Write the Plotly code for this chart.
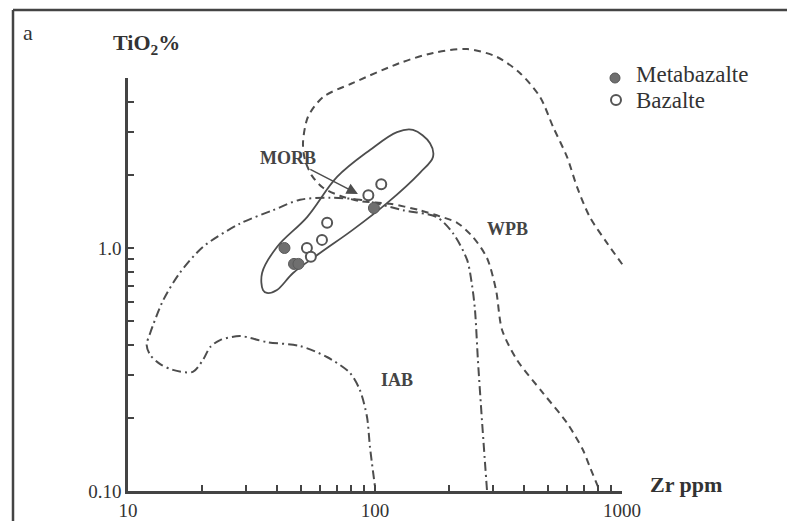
import numpy as np
import plotly.graph_objects as go

# ---------------- data ----------------
# Samples
meta_zr = [43, 47, 49, 99]
meta_ti = [1.00, 0.86, 0.86, 1.46]
baz_zr = [106, 94, 64, 61, 53, 55]
baz_ti = [1.83, 1.65, 1.27, 1.08, 1.00, 0.92]

# MORB field (solid, closed)
morb_zr = [35.2, 34.9, 40.1, 53.1, 70.2, 95.4, 122.8, 142.5, 167, 171.7, 152, 111.8, 81.5, 59.9, 46.6, 40.1, 36.5, 35.2]
morb_ti = [0.671, 0.789, 1.01, 1.34, 1.96, 2.53, 3.00, 3.06, 2.70, 2.37, 2.04, 1.53, 1.19, 0.953, 0.789, 0.672, 0.653, 0.671]

# WPB boundary (dashed)
wpb_zr = [800, 741, 695, 599, 479, 376, 327, 309, 284, 249, 215, 183, 152, 115, 86.9, 72.1, 61.6, 55.6, 52.1,
          51.1, 53.5, 61.6, 81.5, 126, 172, 236, 312, 386, 466, 526, 599, 658, 741, 869, 1028]
wpb_ti = [0.104, 0.1255, 0.1475, 0.1905, 0.253, 0.346, 0.460, 0.672, 0.910, 1.11, 1.27, 1.35, 1.43, 1.52, 1.56,
          1.64, 1.77, 1.98, 2.30, 2.70, 3.46, 4.18, 4.78, 5.77, 6.35, 6.59, 6.11, 5.25, 4.18, 3.15, 2.37, 1.78,
          1.34, 1.05, 0.827]

# IAB boundary (dash-dot)
iab_zr = [284, 271, 261, 254, 247, 236, 207, 178, 130, 86.9, 65.7, 49.7, 38.6, 28.4, 20.1, 16.2, 13.9, 12.3,
          11.9, 12.3, 13.5, 15.2, 18.3, 20.1, 21.5, 23.6, 28.4, 36.5, 49.7, 63.9, 79.2, 86.9, 92.8, 95.4, 100]
iab_ti = [0.101, 0.196, 0.346, 0.556, 0.704, 0.893, 1.15, 1.34, 1.43, 1.58, 1.61, 1.58, 1.43, 1.26, 1.01, 0.789,
          0.611, 0.447, 0.399, 0.363, 0.333, 0.315, 0.309, 0.346, 0.391, 0.418, 0.434, 0.410, 0.395, 0.356,
          0.306, 0.260, 0.202, 0.152, 0.104]

# Axes ticks
x_tickvals = [10, 20, 30, 40, 50, 60, 70, 80, 90, 100, 200, 300, 400, 500, 600, 700, 800, 900, 1000]
x_ticktext = ["10"] + [""] * 8 + ["100"] + [""] * 8 + ["1000"]
y_tickvals = [0.1, 0.2, 0.3, 0.4, 0.5, 0.6, 0.7, 0.8, 0.9, 1.0, 2, 3, 4, 5]
y_ticktext = ["0.10"] + [""] * 8 + ["1.0"] + [""] * 4

# Field labels (MORB label is attached to its arrow tip)
field_names = ["WPB", "IAB"]
field_zr = [345, 122.7]
field_ti = [1.20, 0.286]
morb_label = "MORB"
arrow_zr, arrow_ti = 85.3, 1.67

# ---------------- layout geometry ----------------
W, H = 787, 521
L, R, T, B = 128, 147, 12, 30
PW, PH = W - L - R, H - T - B
PX_DEC_X, PX_DEC_Y = 247.0, 243.0
x_rng = [1, 1 + PW / PX_DEC_X]
y_rng = [-1, -1 + PH / PX_DEC_Y]
x2_dom = (3 - 1) / (x_rng[1] - x_rng[0])
y2_dom = (np.log10(5) + 1) / (y_rng[1] - y_rng[0])


def px(xp, yp):
    return (xp - L) / PW, (H - B - yp) / PH


LC = "#4d4d4d"
SERIF = "Liberation Serif"

fig = go.Figure()
fig.add_trace(go.Scatter(x=wpb_zr, y=wpb_ti, mode="lines",
                         line=dict(color=LC, width=2, dash="7px,5px", shape="spline", smoothing=0.8),
                         showlegend=False, hoverinfo="skip"))
fig.add_trace(go.Scatter(x=iab_zr, y=iab_ti, mode="lines",
                         line=dict(color=LC, width=2, dash="9px,4px,2px,4px", shape="spline", smoothing=0.8),
                         showlegend=False, hoverinfo="skip"))
fig.add_trace(go.Scatter(x=morb_zr, y=morb_ti, mode="lines",
                         line=dict(color=LC, width=1.8, shape="spline", smoothing=1.0),
                         showlegend=False, hoverinfo="skip"))
fig.add_trace(go.Scatter(x=meta_zr, y=meta_ti, mode="markers", xaxis="x2", yaxis="y2",
                         marker=dict(size=11, color="#6f6f6f", line=dict(color="#5a5a5a", width=1)),
                         name="Metabazalte", showlegend=False))
fig.add_trace(go.Scatter(x=baz_zr, y=baz_ti, mode="markers", xaxis="x2", yaxis="y2",
                         marker=dict(size=10, color="white", line=dict(color="#555555", width=2)),
                         name="Bazalte", showlegend=False))

axis_common = dict(type="log", showgrid=False, zeroline=False, automargin=False)
tickfont = dict(family=SERIF, size=19, color="#333")
fig.update_layout(
    width=W, height=H, autosize=False,
    margin=dict(l=L, r=R, t=T, b=B, autoexpand=False),
    paper_bgcolor="white", plot_bgcolor="rgba(0,0,0,0)",
    xaxis=dict(**axis_common, range=x_rng, domain=[0, 1], visible=False, anchor="y"),
    yaxis=dict(**axis_common, range=y_rng, domain=[0, 1], visible=False, anchor="x"),
    xaxis2=dict(**axis_common, range=[1, 3], domain=[0, x2_dom], anchor="y2",
                showline=True, linecolor="#444", linewidth=2.5, ticks="inside", ticklen=6, tickwidth=1.5,
                tickcolor="#444", tickvals=x_tickvals, ticktext=x_ticktext, tickfont=tickfont),
    yaxis2=dict(**axis_common, range=[-1, np.log10(5)], domain=[0, y2_dom], anchor="x2",
                showline=True, linecolor="#444", linewidth=2.5, ticks="inside", ticklen=6, tickwidth=1.5,
                tickcolor="#444", tickvals=y_tickvals, ticktext=y_ticktext, tickfont=tickfont),
    showlegend=False,
)

ann = []
for name, zx, ty in zip(field_names, field_zr, field_ti):
    ann.append(dict(x=np.log10(zx), y=np.log10(ty), xref="x", yref="y", text=f"<b>{name}</b>", showarrow=False,
                    xanchor="center", yanchor="middle", font=dict(family=SERIF, size=18, color="#444")))
# MORB label with its arrow
ann.append(dict(x=np.log10(arrow_zr), y=np.log10(arrow_ti), xref="x", yref="y", ax=-70, ay=-36,
                text=f"<b>{morb_label}</b>", font=dict(family=SERIF, size=18, color="#444"),
                showarrow=True, arrowhead=2, arrowsize=1.5, arrowwidth=1.5, arrowcolor=LC))


def txt(xp, yp, text, size, anchor="center"):
    xa, ya = px(xp, yp)
    return dict(x=xa, y=ya, xref="paper", yref="paper", text=text, showarrow=False,
                xanchor=anchor, yanchor="middle", font=dict(family=SERIF, size=size, color="#333"))


ann.append(txt(146, 44, "<b>TiO<sub>2</sub>%</b>", 22))
ann.append(txt(686, 484, "<b>Zr ppm</b>", 22))
ann.append(txt(28, 32, "a", 22))
ann.append(txt(634, 75, "Metabazalte", 23, "left"))
ann.append(txt(634, 101, "Bazalte", 23, "left"))
fig.update_layout(annotations=ann)

shapes = []
# legend symbols
for (cx, cy, fill, lw) in [(615, 78, "#6f6f6f", 1), (616, 100, "white", 2)]:
    x0, y0 = px(cx - 5, cy + 5)
    x1, y1 = px(cx + 5, cy - 5)
    shapes.append(dict(type="circle", xref="paper", yref="paper", x0=x0, y0=y0, x1=x1, y1=y1,
                       fillcolor=fill, line=dict(color="#555", width=lw)))
# frame
fx0, fy0 = px(13, 10)
fx1, fy1 = px(W + 2, H + 5)
shapes.append(dict(type="line", xref="paper", yref="paper", x0=fx0, y0=fy0, x1=fx1, y1=fy0,
                   line=dict(color="#444", width=2.5)))
shapes.append(dict(type="line", xref="paper", yref="paper", x0=fx0, y0=fy0, x1=fx0, y1=fy1,
                   line=dict(color="#444", width=2.5)))
fig.update_layout(shapes=shapes)

fig.write_html("out.html", config={"responsive": False})
